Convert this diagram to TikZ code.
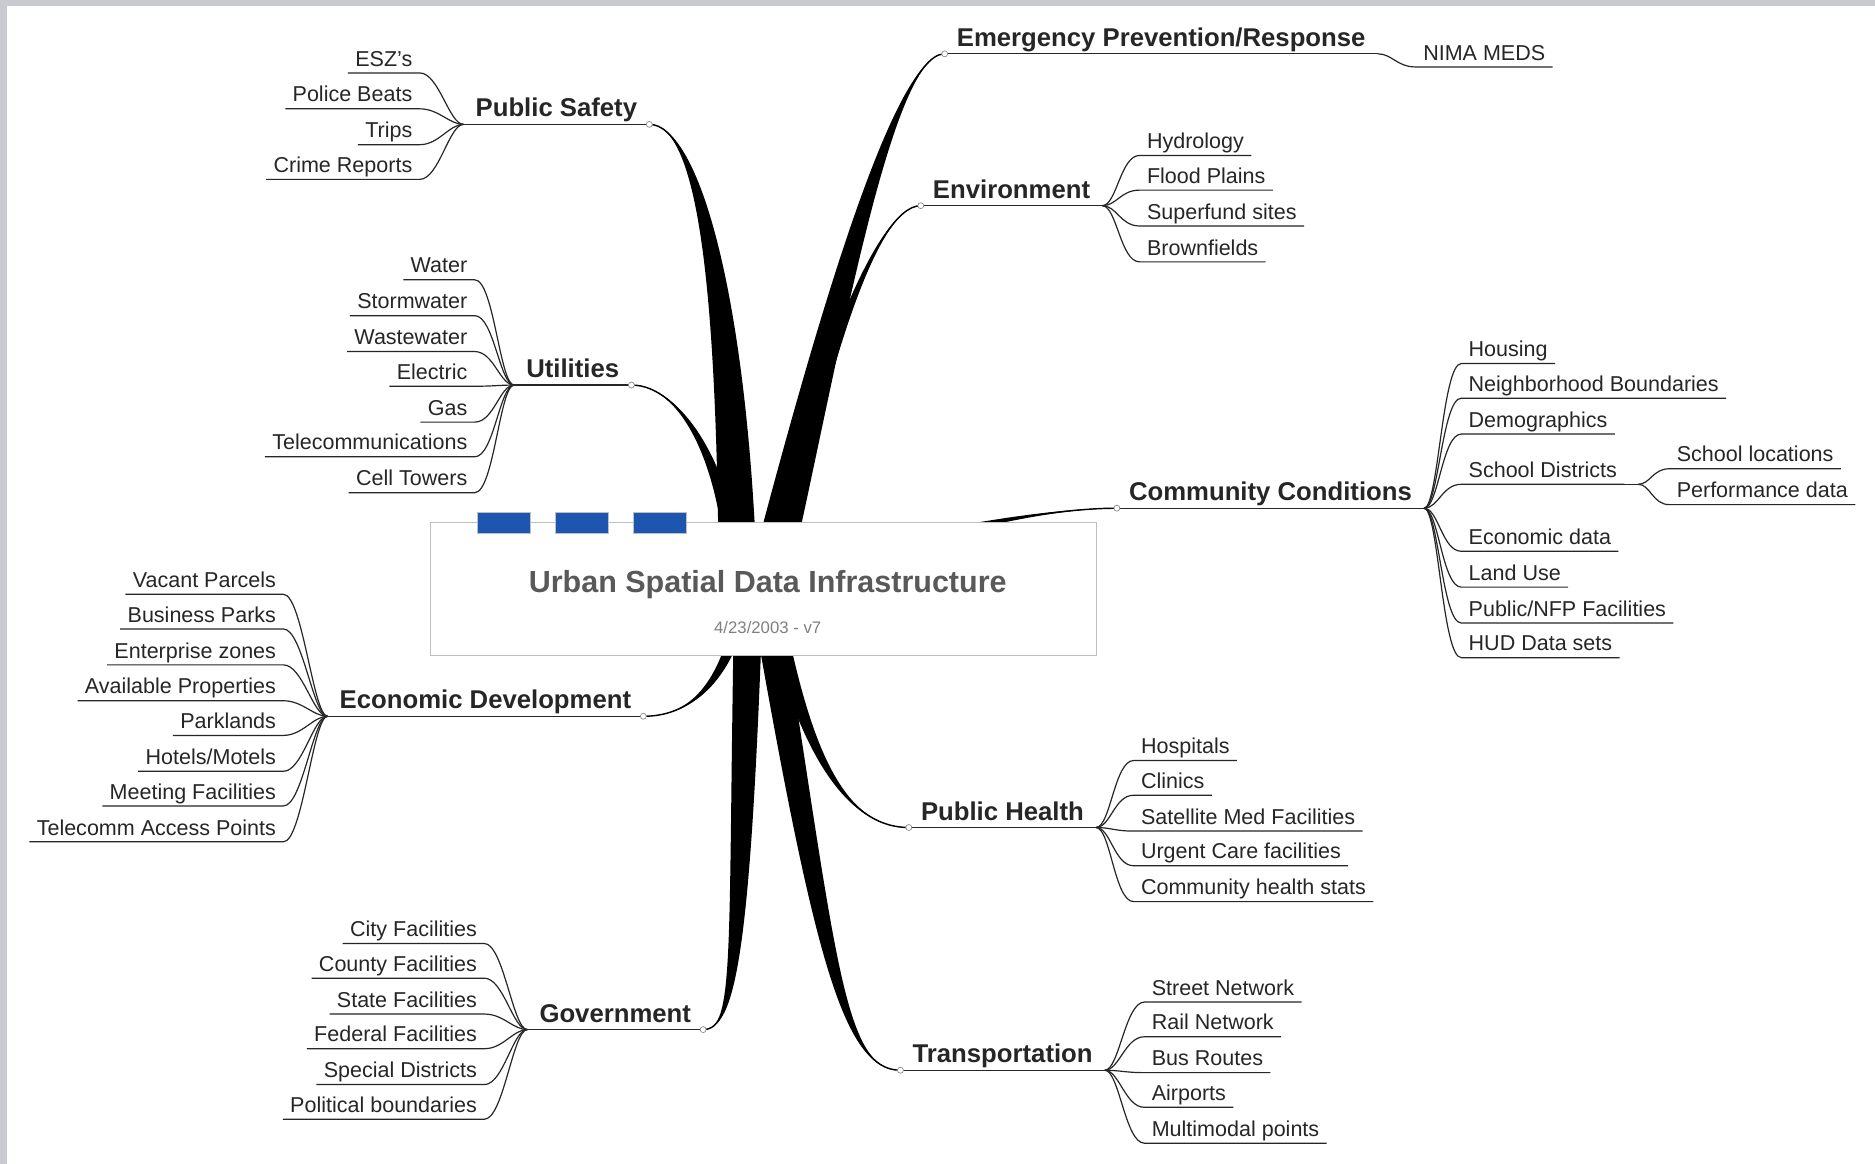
\documentclass[tikz,border=0pt]{standalone}
\usepackage{fontspec}
\setmainfont{Liberation Sans}
\usepackage{tikz}
\usetikzlibrary{calc}

\definecolor{tabblue}{HTML}{1C56AE}
\definecolor{framegray}{HTML}{C8CAD0}

% 粗枝: 起点, 控制点1, 控制点2, 终点, 半宽
\newcommand{\limb}[5]{%
  \fill ($(#1)+#5$) .. controls ($(#2)+0.8*#5$) and (#3) .. (#4)
    .. controls (#3) and ($(#2)-0.8*#5$) .. ($(#1)-#5$) -- cycle;
  \draw[line width=1.2pt] (#1) .. controls (#2) and (#3) .. (#4);}

\begin{document}
\begin{tikzpicture}[x=1pt,y=-1pt,
    topic/.style={font=\fontsize{21.5}{24}\selectfont\bfseries, text=black!85, inner xsep=10pt, inner ysep=0pt, text height=17pt, text depth=6pt},
    leaf/.style={font=\fontsize{18}{20}\selectfont, text=black!85, inner xsep=6pt, inner ysep=0pt, text height=14pt, text depth=5.5pt},
    twig/.style={line width=1pt, black!85},
    knot/.style={circle, draw=black!45, fill=white, inner sep=0pt, minimum size=5pt, line width=0.6pt},
    tab/.style={fill=tabblue, draw=black!25, line width=0.8pt, minimum width=44pt, minimum height=18pt, inner sep=0pt}]
    % 背景
    \fill[framegray] (0,0) rectangle (1568,973);
    \fill[white] (6,5) rectangle (1568,973);
    \useasboundingbox (0,0) rectangle (1568,973);

    % 主题
    \node[topic, anchor=south west] (em) at (790,45) {Emergency Prevention/Response};
    \node[topic, anchor=south west] (env) at (770,172) {Environment};
    \node[topic, anchor=south west] (cc) at (934,425) {Community Conditions};
    \node[topic, anchor=south west] (ph) at (760,692) {Public Health};
    \node[topic, anchor=south west] (tr) at (753,895) {Transportation};
    \node[topic, anchor=south east] (ps) at (543,104) {Public Safety};
    \node[topic, anchor=south east] (ut) at (528,322) {Utilities};
    \node[topic, anchor=south east] (eco) at (538,599) {Economic Development};
    \node[topic, anchor=south east] (gov) at (588,861) {Government};
    \foreach \n in {em,env,cc,ph,tr,ps,ut,eco,gov}
        \draw[twig] (\n.south west) -- (\n.south east);

    % 右侧分支
    \node[leaf, anchor=south west] (nima) at (1184,56) {NIMA MEDS};
    \draw[twig] (em.south east) .. controls +(12,0) and +(-16,0) .. (nima.south west) -- (nima.south east);
    \foreach \txt/\y [count=\i] in {Hydrology/130, Flood Plains/159, Superfund sites/189, Brownfields/219} {
        \node[leaf, anchor=south west] (env\i) at (953,\y) {\txt};
        \draw[twig] (env.south east) .. controls +(12,0) and +(-16,0) .. (env\i.south west) -- (env\i.south east);
    }
    \foreach \txt/\y [count=\i] in {Housing/304, Neighborhood Boundaries/333, Demographics/363, School Districts/405, Economic data/461, Land Use/491, {Public/NFP Facilities}/521, HUD Data sets/550} {
        \node[leaf, anchor=south west] (cc\i) at (1222,\y) {\txt};
        \draw[twig] (cc.south east) .. controls +(12,0) and +(-16,0) .. (cc\i.south west) -- (cc\i.south east);
    }
    \coordinate (sdfork) at (1370,405);
    \draw[twig] (cc4.south east) -- (sdfork);
    \foreach \txt/\y [count=\i] in {School locations/392, Performance data/422} {
        \node[leaf, anchor=south west] (sd\i) at (1396,\y) {\txt};
        \draw[twig] (sdfork) .. controls +(10,0) and +(-14,0) .. (sd\i.south west) -- (sd\i.south east);
    }
    \foreach \txt/\y [count=\i] in {Hospitals/636, Clinics/665, Satellite Med Facilities/695, Urgent Care facilities/724, Community health stats/754} {
        \node[leaf, anchor=south west] (ph\i) at (948,\y) {\txt};
        \draw[twig] (ph.south east) .. controls +(12,0) and +(-16,0) .. (ph\i.south west) -- (ph\i.south east);
    }
    \foreach \txt/\y [count=\i] in {Street Network/838, Rail Network/867, Bus Routes/897, Airports/926, Multimodal points/956} {
        \node[leaf, anchor=south west] (tr\i) at (957,\y) {\txt};
        \draw[twig] (tr.south east) .. controls +(12,0) and +(-16,0) .. (tr\i.south west) -- (tr\i.south east);
    }

    % 左侧分支
    \foreach \txt/\y [count=\i] in {ESZ's/61, Police Beats/91, Trips/121, Crime Reports/150} {
        \node[leaf, anchor=south east] (ps\i) at (351,\y) {\txt};
        \draw[twig] (ps.south west) .. controls +(-12,0) and +(16,0) .. (ps\i.south east) -- (ps\i.south west);
    }
    \foreach \txt/\y [count=\i] in {Water/234, Stormwater/264, Wastewater/294, Electric/323, Gas/353, Telecommunications/382, Cell Towers/412} {
        \node[leaf, anchor=south east] (ut\i) at (397,\y) {\txt};
        \draw[twig] (ut.south west) .. controls +(-12,0) and +(16,0) .. (ut\i.south east) -- (ut\i.south west);
    }
    \foreach \txt/\y [count=\i] in {Vacant Parcels/497, Business Parks/526, Enterprise zones/556, Available Properties/586, Parklands/615, {Hotels/Motels}/645, Meeting Facilities/674, Telecomm Access Points/704} {
        \node[leaf, anchor=south east] (eco\i) at (237,\y) {\txt};
        \draw[twig] (eco.south west) .. controls +(-12,0) and +(16,0) .. (eco\i.south east) -- (eco\i.south west);
    }
    \foreach \txt/\y [count=\i] in {City Facilities/789, County Facilities/818, State Facilities/848, Federal Facilities/877, Special Districts/907, Political boundaries/936} {
        \node[leaf, anchor=south east] (gov\i) at (405,\y) {\txt};
        \draw[twig] (gov.south west) .. controls +(-12,0) and +(16,0) .. (gov\i.south east) -- (gov\i.south west);
    }

    % 粗枝
    \limb{617,480}{612,250}{585,104}{ps.south east}{(16,0)}
    \limb{614,480}{608,390}{570,322}{ut.south east}{(7,0)}
    \limb{644,480}{688,300}{745,45}{em.south west}{(17,0)}
    \limb{648,480}{680,330}{730,172}{env.south west}{(8,0)}
    \limb{660,480}{740,455}{860,425}{cc.south west}{(0,7)}
    \limb{622,500}{608,575}{575,599}{eco.south east}{(6,0)}
    \limb{626,500}{618,800}{615,861}{gov.south east}{(12,0)}
    \limb{640,500}{690,800}{705,895}{tr.south west}{(12,0)}
    \limb{645,500}{668,610}{700,692}{ph.south west}{(8,0)}
    \foreach \n in {em,env,cc,ph,tr}
        \node[knot] (k\n) at (\n.south west) {};
    \foreach \n in {ps,ut,eco,gov}
        \node[knot] (k\n) at (\n.south east) {};

    % 中心
    \node[draw=black!25, fill=white, line width=1.2pt, minimum width=557pt, minimum height=111pt, inner sep=0pt] (core) at (638.5,492.5) {};
    \foreach \x [count=\i] in {421.5,486.5,552}
        \node[tab] (tab\i) at (\x,437.5) {};
    \node[font=\fontsize{25.5}{28}\selectfont\bfseries, text=black!65] (title) at (642,489) {Urban Spatial Data Infrastructure};
    \node[font=\fontsize{14}{16}\selectfont, text=black!50] (date) at (642,525) {4/23/2003 - v7};
\end{tikzpicture}
\end{document}
